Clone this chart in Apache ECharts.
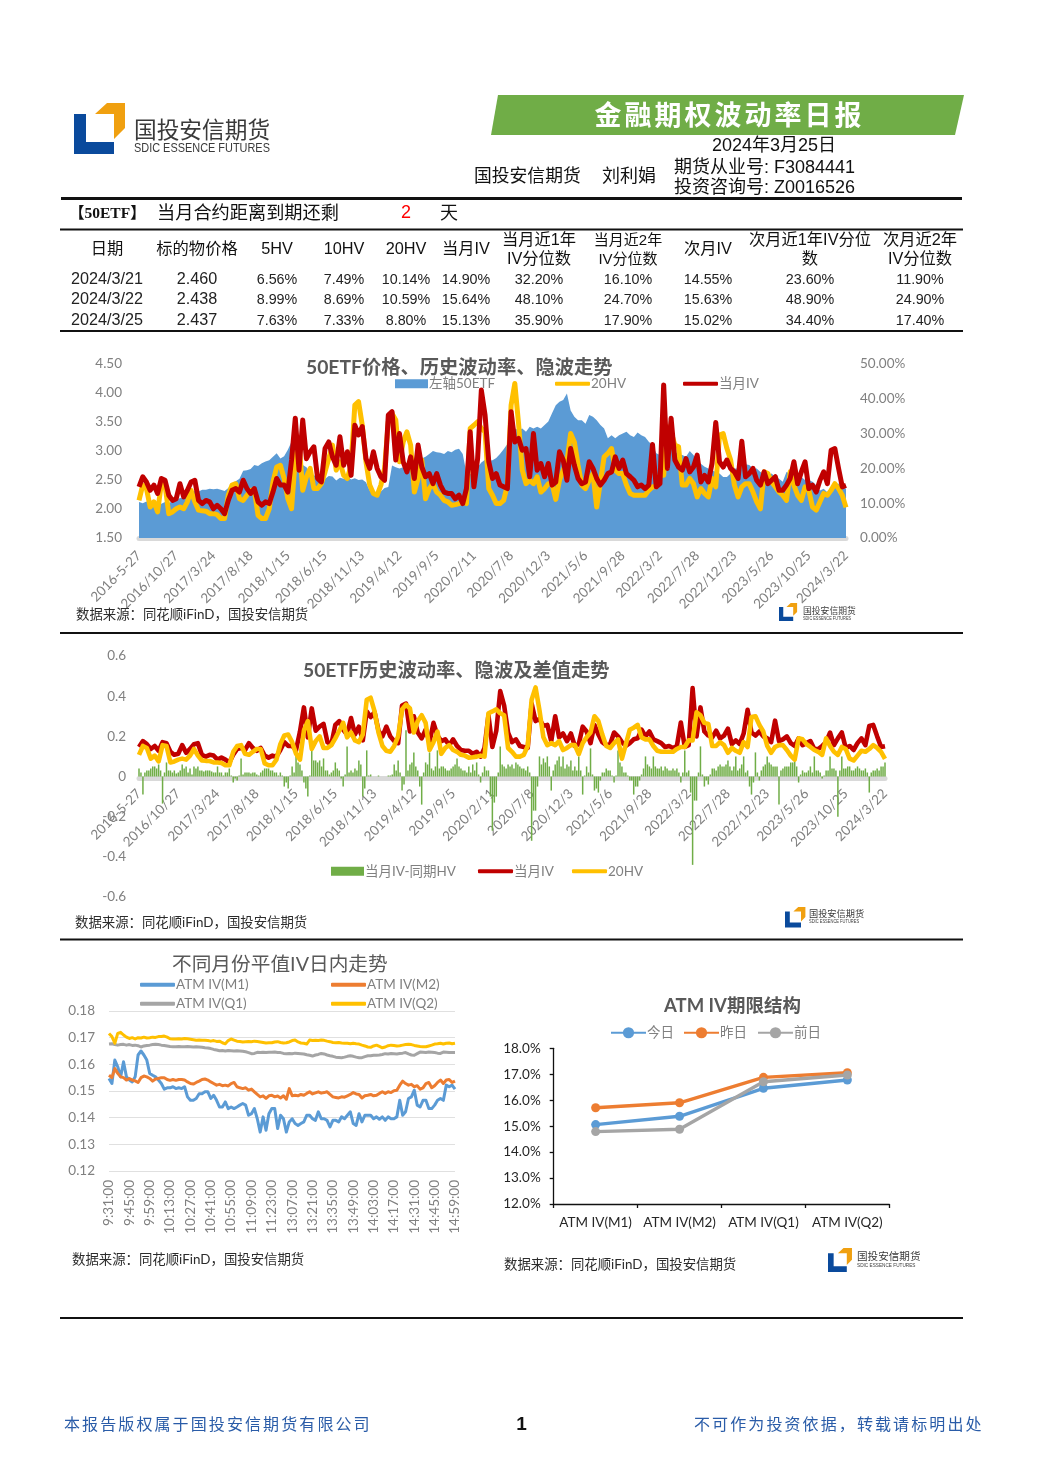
<!DOCTYPE html>
<html><head><meta charset="utf-8">
<script src="https://cdn.jsdelivr.net/npm/echarts@6/dist/echarts.min.js"></script>
<style>html,body{margin:0;padding:0;background:#fff}#c{width:1044px;height:1477px}</style>
</head><body><div id="c"></div>
<script>
// ---- table data
const tableHead = [['日期'],['标的物价格'],['5HV'],['10HV'],['20HV'],['当月IV'],['当月近1年','IV分位数'],['当月近2年','IV分位数'],['次月IV'],['次月近1年IV分位','数'],['次月近2年','IV分位数']];
const tableRows = [
 ['2024/3/21','2.460','6.56%','7.49%','10.14%','14.90%','32.20%','16.10%','14.55%','23.60%','11.90%'],
 ['2024/3/22','2.438','8.99%','8.69%','10.59%','15.64%','48.10%','24.70%','15.63%','48.90%','24.90%'],
 ['2024/3/25','2.437','7.63%','7.33%','8.80%','15.13%','35.90%','17.90%','15.02%','34.40%','17.40%']];
// ---- long-term chart data
const dateTicks = ['2016-5-27','2016/10/27','2017/3/24','2017/8/18','2018/1/15','2018/6/15','2018/11/13','2019/4/12','2019/9/5','2020/2/11','2020/7/8','2020/12/3','2021/5/6','2021/9/28','2022/3/2','2022/7/28','2022/12/23','2023/5/26','2023/10/25','2024/3/22'];
const etfPrice = [2.12,2.10,2.13,2.09,2.11,2.06,2.09,2.12,2.10,2.14,2.14,2.19,2.20,2.24,2.27,2.31,2.30,2.33,2.33,2.35,
2.34,2.35,2.33,2.31,2.36,2.44,2.48,2.52,2.66,2.67,2.69,2.76,2.74,2.79,2.82,2.84,2.90,2.96,2.87,2.91,
3.02,3.16,3.02,2.88,2.76,2.72,2.63,2.58,2.55,2.50,2.52,2.57,2.56,2.49,2.54,2.52,2.56,2.51,2.53,2.50,
2.51,2.46,2.32,2.29,2.27,2.30,2.36,2.38,2.75,2.72,2.70,2.72,2.73,2.74,2.80,2.83,2.87,2.90,2.95,3.00,
2.98,2.97,2.95,3.00,2.98,3.02,3.04,2.95,2.62,2.60,2.66,2.72,2.80,2.85,2.83,2.84,2.88,2.95,3.03,3.12,
3.36,3.39,3.36,3.39,3.33,3.42,3.39,3.42,3.39,3.45,3.51,3.65,3.79,3.85,3.88,3.99,3.70,3.59,3.53,3.53,
3.47,3.62,3.59,3.53,3.45,3.39,3.22,3.27,3.22,3.27,3.30,3.33,3.27,3.24,3.32,3.27,3.24,3.16,3.10,2.96,
2.93,2.99,2.96,3.04,2.99,2.93,2.93,2.90,3.00,2.93,2.84,2.78,2.73,2.70,2.67,2.64,2.61,2.55,2.55,2.61,
2.70,2.70,2.76,2.77,2.76,2.70,2.70,2.64,2.61,2.58,2.61,2.55,2.52,2.47,2.64,2.61,2.67,2.55,2.55,2.50,
2.50,2.47,2.41,2.32,2.35,2.29,2.35,2.41,2.44,2.38,2.35];
const ivM1 = [.147,.176,.161,.137,.152,.128,.171,.166,.123,.108,.113,.156,.118,.137,.161,.166,.108,.099,.108,.104,
.084,.094,.084,.07,.108,.137,.142,.132,.166,.142,.128,.142,.104,.094,.104,.099,.132,.171,.152,.152,
.132,.224,.344,.195,.339,.228,.248,.262,.171,.161,.257,.276,.233,.209,.291,.209,.248,.18,.324,.296,
.32,.228,.2,.248,.2,.176,.166,.353,.363,.224,.3,.219,.19,.233,.171,.267,.204,.176,.185,.156,
.185,.152,.132,.128,.128,.113,.123,.099,.142,.305,.147,.228,.425,.353,.219,.171,.185,
.152,.147,.142,.363,.276,.286,.252,.257,.176,.3,.195,.214,.176,.214,.152,.161,.248,.224,.166,
.257,.209,.171,.156,.161,.219,.2,.171,.152,.166,.185,.19,.233,.2,.224,.185,.176,.166,.147,.152,
.142,.152,.269,.147,.156,.44,.2,.344,.224,.204,.195,.228,.19,.204,.238,.161,.18,.161,.214,.332,
.219,.204,.224,.2,.19,.171,.278,.176,.185,.2,.166,.152,.19,.156,.166,.176,.137,.137,.152,.171,
.219,.156,.19,.219,.142,.152,.132,.166,.19,.156,.252,.257,.2,.147,.151];
const hv20 = [.108,.152,.142,.089,.104,.075,.156,.152,.07,.075,.084,.089,.084,.104,.137,.104,.08,.078,.077,.07,
.07,.067,.056,.056,.123,.152,.156,.113,.108,.123,.137,.137,.065,.056,.056,.084,.161,.204,.209,.171,
.113,.084,.228,.276,.137,.176,.2,.142,.142,.156,.19,.228,.267,.195,.219,.18,.171,.209,.382,.392,
.324,.219,.152,.128,.123,.152,.2,.334,.358,.339,.219,.276,.305,.267,.132,.171,.224,.113,.142,.156,
.132,.123,.108,.104,.094,.096,.099,.104,.099,.315,.324,.334,.315,.305,.142,.123,.099,
.099,.108,.152,.382,.444,.329,.195,.156,.166,.156,.176,.132,.142,.156,.156,.111,.166,.195,.219,
.3,.276,.209,.152,.142,.166,.185,.089,.161,.233,.243,.257,.195,.185,.185,.152,.128,.123,.123,.123,
.123,.137,.147,.147,.18,.18,.32,.305,.267,.262,.152,.152,.171,.156,.118,.142,.128,.118,.171,.147,
.296,.3,.257,.224,.152,.118,.147,.156,.156,.132,.104,.084,.19,.185,.161,.147,.132,.123,.108,.19,
.152,.123,.108,.147,.137,.089,.08,.104,.128,.123,.137,.156,.142,.123,.088];
const ivMinusHv = [.04,.02,-.09,.02,.03,.03,.04,.05,.05,.04,.06,.03,-.135,.02,.07,.03,.03,.02,.03,.015,.02,.03,.06,.04,.05,.02,.04,.01,.05,.04,.05,.03,.03,.025,.03,.03,.03,.025,.02,.02,
.05,.02,.02,.005,.02,.02,.04,.005,-.03,-.01,-.02,.005,.09,.01,.02,.02,.02,.015,.02,.02,.01,.005,.02,.03,.04,.04,.04,.03,.03,.02,.02,.005,.02,.005,-.05,-.03,-.06,.005,.05,.02,
.11,.07,.06,.03,-.03,-.06,-.1,.005,.13,.08,.08,.07,.08,.05,.09,.03,.03,.01,.02,.03,.07,.04,.03,-.01,-.05,.01,.15,.02,.03,.02,.04,.03,.08,.06,-.1,-.06,.13,.005,.01,0,
0,0,.005,0,0,0,0,.005,.005,.01,.06,.03,.08,.02,-.07,-.04,.23,.03,.06,.07,.12,.05,.03,-.05,-.14,.02,.07,.06,.12,.04,.03,.05,.13,.04,.05,.05,.04,.03,.03,.04,
.05,.06,.09,.05,.04,.03,.03,.02,.05,.02,.06,.03,.07,.01,-.03,.02,.05,.03,.03,-.1,-.27,-.13,-.1,.02,.15,.06,.05,.04,.06,.05,.06,.04,.07,.06,.05,.04,.04,.03,.05,.02,
-.32,-.17,-.17,-.05,.1,.06,.09,.07,.1,.05,-.07,.03,.06,.08,.1,.05,.1,.04,.06,.05,.08,.03,.05,.03,.1,.03,-.09,.005,.05,.02,.14,.01,-.07,-.06,-.08,-.02,.02,.02,.04,.03,
.03,.005,-.03,.005,.13,.07,.05,.02,.02,.005,-.02,-.02,-.09,-.05,-.05,-.02,.01,.04,.1,.06,.05,.04,.1,.05,.04,.04,.05,.03,.05,.04,.03,.03,.04,.03,.04,.02,-.03,.02,.13,.02,
.03,-.08,-.44,-.12,-.12,.02,.15,.01,-.05,-.02,-.04,.01,.04,.04,.03,.05,.06,.05,.05,.06,.08,.05,.03,.05,.1,.03,.04,.06,.1,.02,.03,-.05,-.09,-.03,.12,.02,-.02,.03,.05,.06,
.1,.07,.06,.05,.05,.05,-.14,.03,.04,.05,.05,.05,.07,.07,.08,.05,-.03,.01,.03,.02,.02,.03,.05,.02,.1,.03,.03,.02,-.01,.005,.03,.03,.1,.04,.04,.03,-.2,.03,.1,.04,
.04,.05,.05,.03,.03,.04,.05,.04,.03,.03,.04,.02,-.08,.02,.03,.03,.04,.03,.05,.05,.07];
// ---- intraday data
const timeTicks = ['9:31:00','9:45:00','9:59:00','10:13:00','10:27:00','10:41:00','10:55:00','11:09:00','11:23:00','13:07:00','13:21:00','13:35:00','13:49:00','14:03:00','14:17:00','14:31:00','14:45:00','14:59:00'];
const atmM1 = [.1547,.1528,.1616,.1591,.1553,.1610,.1553,.1541,.1534,.1553,.1635,.1650,.1635,.1616,.1566,.1559,.1553,.1541,.1528,.1507,
.1512,.1512,.1516,.1509,.1512,.1509,.1516,.1478,.1465,.1465,.1472,.1490,.1490,.1497,.1497,.1472,.1484,.1465,.1440,.1440,
.1459,.1434,.1440,.1434,.1440,.1447,.1453,.1447,.1409,.1415,.1434,.1396,.1346,.1403,.1353,.1415,.1434,.1434,.1359,.1409,
.1396,.1346,.1384,.1396,.1378,.1371,.1378,.1384,.1409,.1409,.1396,.1390,.1422,.1396,.1396,.1390,.1365,.1390,.1390,.1384,
.1403,.1396,.1409,.1422,.1378,.1371,.1415,.1384,.1409,.1409,.1409,.1396,.1403,.1394,.1403,.1390,.1403,.1396,.1396,.1403,
.1465,.1409,.1422,.1472,.1478,.1503,.1447,.1440,.1465,.1465,.1434,.1434,.1447,.1465,.1472,.1465,.1522,.1516,.1522,.1507];
const atmM2 = [.1559,.1550,.1584,.1566,.1553,.1550,.1541,.1547,.1541,.1538,.1532,.1550,.1556,.1553,.1547,.1537,.1545,.1547,.1550,.1550,
.1543,.1540,.1543,.1540,.1543,.1543,.1541,.1534,.1528,.1526,.1532,.1537,.1543,.1545,.1541,.1534,.1528,.1522,.1525,.1520,
.1522,.1519,.1528,.1532,.1516,.1512,.1509,.1512,.1503,.1507,.1497,.1487,.1478,.1482,.1472,.1482,.1484,.1478,.1481,.1474,
.1482,.1469,.1509,.1482,.1484,.1482,.1487,.1484,.1491,.1497,.1489,.1493,.1497,.1492,.1494,.1497,.1487,.1478,.1476,.1474,
.1478,.1477,.1482,.1487,.1494,.1489,.1487,.1474,.1482,.1484,.1487,.1482,.1484,.1491,.1497,.1491,.1497,.1494,.1501,.1503,
.1522,.1537,.1528,.1522,.1525,.1516,.1520,.1507,.1512,.1528,.1532,.1512,.1520,.1532,.1541,.1528,.1541,.1543,.1532,.1537];
const atmQ1 = [.1676,.1677,.1674,.1672,.1674,.1675,.1672,.1674,.1671,.1672,.1670,.1665,.1669,.1671,.1672,.1674,.1675,.1674,.1672,.1671,
.1669,.1667,.1666,.1666,.1667,.1666,.1666,.1667,.1666,.1665,.1666,.1665,.1664,.1662,.1661,.1659,.1656,.1654,.1651,.1652,
.1650,.1652,.1651,.1650,.1651,.1650,.1649,.1647,.1644,.1640,.1641,.1645,.1644,.1645,.1644,.1645,.1645,.1646,.1644,.1644,
.1641,.1640,.1641,.1640,.1642,.1641,.1640,.1639,.1636,.1634,.1631,.1635,.1637,.1641,.1639,.1635,.1632,.1630,.1627,.1626,
.1625,.1627,.1630,.1632,.1630,.1627,.1625,.1625,.1629,.1632,.1632,.1634,.1634,.1635,.1637,.1640,.1639,.1641,.1640,.1639,
.1641,.1642,.1644,.1639,.1635,.1634,.1640,.1646,.1645,.1644,.1646,.1645,.1644,.1642,.1641,.1646,.1645,.1644,.1644,.1644];
const atmQ2 = [.1716,.1704,.1679,.1716,.1720,.1710,.1702,.1697,.1700,.1695,.1700,.1699,.1702,.1699,.1700,.1702,.1701,.1704,.1704,.1706,
.1702,.1696,.1695,.1695,.1696,.1695,.1697,.1696,.1694,.1692,.1690,.1691,.1690,.1690,.1689,.1687,.1689,.1686,.1687,.1681,
.1677,.1689,.1695,.1691,.1687,.1686,.1684,.1685,.1686,.1685,.1687,.1686,.1684,.1682,.1680,.1681,.1681,.1684,.1685,.1682,
.1680,.1681,.1684,.1689,.1691,.1684,.1680,.1679,.1676,.1691,.1689,.1690,.1689,.1691,.1690,.1687,.1685,.1682,.1681,.1682,
.1680,.1679,.1679,.1677,.1679,.1677,.1676,.1672,.1669,.1665,.1664,.1669,.1672,.1667,.1662,.1665,.1670,.1672,.1671,.1669,
.1670,.1672,.1674,.1675,.1674,.1671,.1669,.1667,.1666,.1666,.1669,.1672,.1676,.1677,.1679,.1676,.1679,.1680,.1677,.1679];
// ---- term structure
const termCats = ['ATM IV(M1)','ATM IV(M2)','ATM IV(Q1)','ATM IV(Q2)'];
const termToday = [15.06,15.38,16.46,16.78];
const termYesterday = [15.71,15.90,16.88,17.06];
const termPrior = [14.79,14.88,16.71,16.97];

const F = 'Lato,"Noto Sans CJK SC",sans-serif';
const A = '"Liberation Sans","Noto Sans CJK SC",sans-serif';
const C = '"Noto Sans CJK SC",sans-serif';
const GRAY = '#808080', BLUE='#5B9BD5', RED='#C00000', GOLD='#FFC000', GREEN='#70AD47', ORANGE='#ED7D31', SILVER='#A5A5A5';

const dateCats = ivM1.map((_,i)=> i%10===0 ? dateTicks[i/10] : '');
const timeCats = atmM1.map((_,i)=> i%7===0 ? timeTicks[i/7] : '');
const diffCats = ivMinusHv.map((_,i)=>String(i));

// ---- page furniture
const g = [];
const T = (text,x,y,fontSize,o={},scaleX=1) => g.push({type:'text',x,y,scaleX,silent:true,z:20,style:Object.assign({text,fontSize,fontFamily:A,fill:'#111',textAlign:'left',textVerticalAlign:'middle'},o)});
const spaced = (text,x0,step,y,size,o) => [...text].forEach((ch,i)=>T(ch,x0+step*i,y,size,Object.assign({textAlign:'center'},o)));
const R = (x,y,width,height,fill) => g.push({type:'rect',silent:true,z:10,shape:{x,y,width,height},style:{fill}});
function logo(x,y,s,textX,size1,size2,y1,y2){
  const tp = pts => pts.map(p=>[x+p[0]*s,y+p[1]*s]);
  g.push({type:'polygon',silent:true,z:10,shape:{points:tp([[0,11],[12,11],[12,39],[40,39],[40,51],[0,51]])},style:{fill:'#0A4A9C'}});
  g.push({type:'polygon',silent:true,z:10,shape:{points:tp([[33,0],[51,0],[51,25],[40,36],[40,11],[21,11]])},style:{fill:'#F0A010'}});
  T('国投安信期货',textX,y1,size1,{fontFamily:C,fill:'#3A3A3A'});
  T('SDIC ESSENCE FUTURES',textX,y2,size2,{fill:'#3A3A3A'},0.84);
}
logo(74,103,1,134,22.7,13,129.5,148);
logo(779,603,.355,803,8.8,4.6,610.5,618.5);
logo(785,907,.4,809,9.2,4.8,913.5,921.5);
logo(828,1248,.47,857,10.6,5.6,1256,1265.5);

g.push({type:'polygon',silent:true,z:10,shape:{points:[[498,95],[964,95],[955,135],[491,135]]},style:{fill:'#70AD47'}});
spaced('金融期权波动率日报',608,30,115,27,{fill:'#fff',fontFamily:C,fontWeight:700});
T('2024年3月25日',774,146.5,18,{textAlign:'center'});
T('国投安信期货',474,177.5,17.8,{});
T('刘利娟',602,177.5,18,{});
T('期货从业号: F3084441',674,168.5,18,{});
T('投资咨询号: Z0016526',674,188.5,18,{});
R(61,197,901,3,'#111');
T('【50ETF】',69,213.5,15.5,{fontFamily:'"Liberation Serif","Noto Sans CJK SC",serif',fontWeight:700});
T('当月合约距离到期还剩',157,214,18.2,{});
T('2',406,213.5,18,{fill:'#FF0000',textAlign:'center'});
T('天',449,214,18,{textAlign:'center'});
R(60,228.5,903,2,'#111');
const colX = [107,197,277,344,406,466,539,628,708,810,920];
const headSize = [16.3,16.3,16.3,16.3,16.3,16.3,16.3,15,16.3,16.3,16.3];
tableHead.forEach((h,c)=>{
  if(h.length===1) T(h[0],colX[c],250,headSize[c],{textAlign:'center'});
  else { T(h[0],colX[c],240.5,headSize[c],{textAlign:'center'}); T(h[1],colX[c],259.5,headSize[c],{textAlign:'center'}); }
});
tableRows.forEach((r,k)=>r.forEach((v,c)=>T(v,colX[c],[280,300,321][k],v.indexOf('%')>0?14.3:16.2,{textAlign:'center',fill:'#222'})));
R(60,330,903,2,'#111');
R(60,632,903,2,'#111');
R(60,938.5,903,2,'#111');
R(60,1317,903,2,'#111');
const srcText = '数据来源:同花顺iFinD,国投安信期货';
[[76,614.5],[75,922.5],[72,1259.5],[504,1264.5]].forEach(p=>T(srcText.replace(':','：').replace(',','，'),p[0],p[1],13.4,{fontFamily:F,fill:'#2b2b2b'}));
spaced('本报告版权属于国投安信期货有限公司',72,18.1,1424,16,{fill:'#2A5CA8',fontFamily:C});
spaced('不可作为投资依据，转载请标明出处',702,18.1,1424,16,{fill:'#2A5CA8',fontFamily:C});
T('1',521.5,1425,19,{textAlign:'center',fontWeight:700,fill:'#111'});

// ---- helpers
const lineLeg = {icon:'roundRect',itemHeight:4};
const leg = (name,left,midY,extra={}) => Object.assign({data:[name],left,top:midY-6,itemWidth:35,itemHeight:14,itemGap:0,padding:0,selectedMode:false,
   textStyle:{color:GRAY,fontSize:13.5,fontFamily:F,padding:[0,0,2,-4]}},extra);
const ttl = (text,left,midY,fontSize,fontWeight) => ({text,left,top:midY-fontSize/2-1,padding:0,textStyle:{color:'#595959',fontSize,fontWeight,fontFamily:F}});
const labelStyle = {color:GRAY,fontSize:13.5,fontFamily:F};
const yLabel = Object.assign({},labelStyle,{padding:[3,0,0,0]});
const line = (name,data,color,width,x,y) => ({type:'line',name,data,xAxisIndex:x,yAxisIndex:y,showSymbol:false,symbol:'none',lineStyle:{color,width,join:'round'},itemStyle:{color},silent:true,animation:false});

const option = {
  animation:false,
  backgroundColor:'#fff',
  graphic:{elements:g},
  title:[
    ttl('50ETF价格、历史波动率、隐波走势',306,369,19.3,700),
    ttl('50ETF历史波动率、隐波及差值走势',303,672,19.3,700),
    ttl('不同月份平值IV日内走势',172,966,19.7,400),
    ttl('ATM IV期限结构',664,1007,18.5,700)
  ],
  legend:[
    leg('左轴50ETF',395,383,{icon:'rect',itemWidth:33,itemHeight:9}),
    leg('20HV',555,383,lineLeg),
    leg('当月IV',683,383,lineLeg),
    leg('当月IV-同期HV',331,870.5,{icon:'rect',itemWidth:33,itemHeight:9}),
    leg('当月IV ',478,870.5,lineLeg),
    leg('20HV ',572,870.5,lineLeg),
    leg('ATM IV(M1)',140,984,lineLeg),
    leg('ATM IV(M2)',331,984,lineLeg),
    leg('ATM IV(Q1)',140,1003,lineLeg),
    leg('ATM IV(Q2)',331,1003,lineLeg),
    leg('今日',610,1032),
    leg('昨日',683,1032),
    leg('前日',757,1032)
  ],
  grid:[
    {left:139,width:707,top:364,height:174},
    {left:139,width:746,top:656,height:241},
    {left:109,width:346,top:1011,height:160},
    {left:553.7,width:335.6,top:1048.3,height:155.7}
  ],
  xAxis:[
    {type:'category',gridIndex:0,data:dateCats,boundaryGap:false,offset:2.5,axisLine:{lineStyle:{color:'#D9D9D9',width:5}},axisTick:{show:false},axisLabel:Object.assign({},labelStyle,{interval:9,rotate:45,margin:13})},
    {type:'category',gridIndex:1,data:dateCats,boundaryGap:false,position:'bottom',offset:-118.5,axisLine:{onZero:false,lineStyle:{color:'#D9D9D9',width:5}},axisTick:{show:false},axisLabel:Object.assign({},labelStyle,{interval:9,rotate:45,margin:13})},
    {type:'category',gridIndex:2,data:timeCats,boundaryGap:false,axisLine:{show:false},axisTick:{show:false},axisLabel:Object.assign({},labelStyle,{interval:6,rotate:90,margin:9})},
    {type:'category',gridIndex:3,data:termCats,boundaryGap:true,axisLine:{lineStyle:{color:'#111',width:1.3}},axisTick:{show:true,length:4,inside:false,lineStyle:{color:'#111',width:1.3}},axisLabel:{color:'#262626',fontSize:13.5,fontFamily:F,margin:12,interval:0}},
    {type:'category',gridIndex:1,data:diffCats,boundaryGap:false,show:false}
  ],
  yAxis:[
    {type:'value',gridIndex:0,min:1.5,max:4.5,interval:.5,splitLine:{show:false},axisLine:{show:false},axisTick:{show:false},axisLabel:Object.assign({},yLabel,{margin:17,formatter:v=>v.toFixed(2)})},
    {type:'value',gridIndex:0,position:'right',min:0,max:.5,interval:.1,splitLine:{show:false},axisLine:{show:false},axisTick:{show:false},axisLabel:Object.assign({},yLabel,{margin:14,formatter:v=>(v*100).toFixed(2)+'%'})},
    {type:'value',gridIndex:1,min:-.6,max:.6,interval:.2,splitLine:{show:false},axisLine:{show:false},axisTick:{show:false},axisLabel:Object.assign({},yLabel,{margin:13,formatter:v=>String(Math.round(v*10)/10)})},
    {type:'value',gridIndex:2,min:.12,max:.18,interval:.01,splitLine:{lineStyle:{color:'#E0E0E0',width:1}},axisLine:{show:false},axisTick:{show:false},axisLabel:Object.assign({},yLabel,{margin:14,formatter:v=>v.toFixed(2)})},
    {type:'value',gridIndex:3,min:12,max:18,interval:1,splitLine:{show:false},axisLine:{show:true,lineStyle:{color:'#111',width:1.3}},axisTick:{show:true,length:4,lineStyle:{color:'#111',width:1.3}},axisLabel:{color:'#262626',fontSize:13.5,fontFamily:F,margin:13,formatter:v=>v.toFixed(1)+'%'}}
  ],
  series:[
    Object.assign(line('左轴50ETF',etfPrice,BLUE,0,0,0),{areaStyle:{color:BLUE,opacity:1,origin:'start'},itemStyle:{color:BLUE},lineStyle:{width:0,color:BLUE}}),
    line('20HV',hv20,GOLD,5,0,1),
    line('当月IV',ivM1,RED,5,0,1),
    {type:'bar',name:'当月IV-同期HV',data:ivMinusHv,xAxisIndex:4,yAxisIndex:2,barWidth:1.5,itemStyle:{color:GREEN},silent:true},
    line('当月IV ',ivM1,RED,4.6,1,2),
    line('20HV ',hv20,GOLD,4.6,1,2),
    line('ATM IV(M1)',atmM1,BLUE,3,2,3),
    line('ATM IV(M2)',atmM2,ORANGE,3,2,3),
    line('ATM IV(Q1)',atmQ1,SILVER,3,2,3),
    line('ATM IV(Q2)',atmQ2,GOLD,3,2,3)
  ].concat([[ '今日',termToday,BLUE],['昨日',termYesterday,ORANGE],['前日',termPrior,SILVER]].map(s=>({
    type:'line',name:s[0],data:s[1],xAxisIndex:3,yAxisIndex:4,symbol:'circle',symbolSize:9,showSymbol:true,lineStyle:{color:s[2],width:3.4},itemStyle:{color:s[2]},silent:true
  })))
};
echarts.init(document.getElementById('c'),null,{renderer:'canvas'}).setOption(option);
</script>
</body></html>
